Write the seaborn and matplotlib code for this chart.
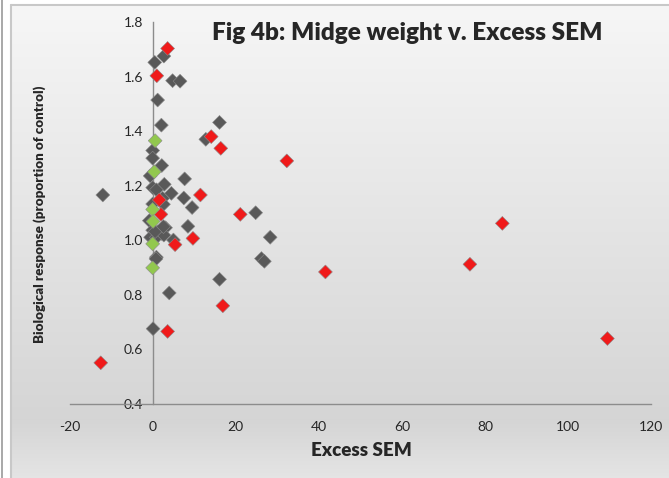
import numpy as np
import pandas as pd
import matplotlib
matplotlib.use("Agg")
import matplotlib.pyplot as plt
import seaborn as sns

# ---- data ----
gray_x = [0.5, 2.7, 4.8, 6.6, 1.2, 2.1, 16.1, 12.8, 0.0, 0.0, 2.2, -0.6, 7.7, 2.8, 0.0,
          0.9, 4.5, -12.0, 7.5, 2.4, 0.0, 2.6, 9.5, 24.8, -0.8, 8.5, 3.1, 0.0, 1.2, 2.2,
          -0.5, 0.9, 2.7, 5.0, 28.3, 0.9, 0.8, 26.2, 26.9, 16.1, 4.0, 0.1, 0.6, 2.6]
gray_y = [1.652, 1.675, 1.585, 1.583, 1.514, 1.422, 1.432, 1.370, 1.329, 1.301, 1.274,
          1.236, 1.225, 1.205, 1.193, 1.185, 1.172, 1.166, 1.155, 1.154, 1.133, 1.132,
          1.120, 1.101, 1.072, 1.051, 1.046, 1.037, 1.031, 1.025, 1.011, 1.011, 1.019,
          1.001, 1.011, 0.938, 0.932, 0.933, 0.923, 0.857, 0.807, 0.676, 1.032, 1.050]
red_x = [3.6, 1.0, 14.1, 16.4, 32.3, 11.5, 1.6, 2.0, 21.1, 84.2, 9.7, 5.4, 41.6, 76.4,
         16.9, 3.6, -12.5, 109.5]
red_y = [1.703, 1.603, 1.380, 1.337, 1.291, 1.166, 1.148, 1.095, 1.095, 1.062, 1.007,
         0.984, 0.884, 0.912, 0.760, 0.666, 0.551, 0.640]
green_x = [0.6, 0.4, 0.0, 0.1, 0.0, 0.0]
green_y = [1.365, 1.251, 1.113, 1.069, 0.987, 0.899]

x_ticks = [-20, 0, 20, 40, 60, 80, 100, 120]
y_ticks = [0.4, 0.6, 0.8, 1.0, 1.2, 1.4, 1.6, 1.8]

df = pd.concat([
    pd.DataFrame({"x": gray_x, "y": gray_y, "s": "gray"}),
    pd.DataFrame({"x": red_x, "y": red_y, "s": "red"}),
    pd.DataFrame({"x": green_x, "y": green_y, "s": "green"}),
], ignore_index=True)

sns.set_style("white")
plt.rcParams["font.family"] = ["Lato", "DejaVu Sans"]

W, H = 669, 478
fig = plt.figure(figsize=(W / 100, H / 100), dpi=100)
fig.patch.set_facecolor("white")

# background gradient panel
bg = fig.add_axes([11 / W, 0, 1 - 11 / W, 1 - 5 / H], zorder=0)
top = np.array([0.965, 0.965, 0.965])
mid = np.array([0.835, 0.835, 0.835])
bot = np.array([0.895, 0.895, 0.895])
n = 256
t = np.linspace(0, 1, n)
cols = np.zeros((n, 1, 3))
for i, v in enumerate(t):
    if v < 0.88:
        f = v / 0.88
        cols[i, 0] = top * (1 - f) + mid * f
    else:
        f = (v - 0.88) / 0.12
        cols[i, 0] = mid * (1 - f) + bot * f
bg.imshow(cols, aspect="auto", extent=[0, 1, 0, 1])
bg.set_axis_off()
for xx, yy in [([0, 0], [0, 1]), ([0, 1], [1, 1])]:
    bg.plot(xx, yy, color="#c8c8c8", lw=1.5, transform=bg.transAxes, clip_on=False)
fig.add_artist(plt.Line2D([1.5 / W, 1.5 / W], [0, 1], color="#9a9a9a", lw=1.2))

ax = fig.add_axes([69.6 / W, 1 - 404 / H, 581.4 / W, (404 - 22) / H], zorder=1)
ax.patch.set_alpha(0)

sns.scatterplot(data=df, x="x", y="y", hue="s",
                palette={"gray": "#595959", "red": "#f01a1a", "green": "#92c84e"},
                marker="D", s=50, edgecolor="#8a8a8a", linewidth=0.4,
                legend=False, ax=ax, zorder=3)

ax.set_xlim(-20, 120)
ax.set_ylim(0.4, 1.8)
ax.set_xticks(x_ticks)
ax.set_yticks(y_ticks)
ax.set_xticklabels([str(v) for v in x_ticks], fontsize=10, color="#404040")
ax.set_yticklabels([f"{v:.1f}" for v in y_ticks], fontsize=10, color="#404040")
ax.spines["left"].set_position(("data", 0))
ax.spines["bottom"].set_position(("data", 0.4))
ax.spines["top"].set_visible(False)
ax.spines["right"].set_visible(False)
for sp in ("left", "bottom"):
    ax.spines[sp].set_color("#8c8c8c")
    ax.spines[sp].set_linewidth(1.0)
ax.tick_params(axis="both", length=0)
ax.tick_params(axis="x", pad=12)
ax.tick_params(axis="y", pad=7)
ax.set_xlabel("")
ax.set_ylabel("")

fig.text(407 / W, 1 - 33 / H, "Fig 4b: Midge weight v. Excess SEM", fontsize=17.5,
         fontweight="heavy", color="#262626", ha="center", va="center")
fig.text(361 / W, 1 - 450 / H, "Excess SEM", fontsize=13.5, fontweight="heavy",
         color="#262626", ha="center", va="center")
fig.text(40 / W, 1 - 214 / H, "Biological response (proportion of control)", fontsize=9.6,
         fontweight="heavy", color="#262626", ha="center", va="center", rotation=90)

fig.savefig("out.png", dpi=100)
